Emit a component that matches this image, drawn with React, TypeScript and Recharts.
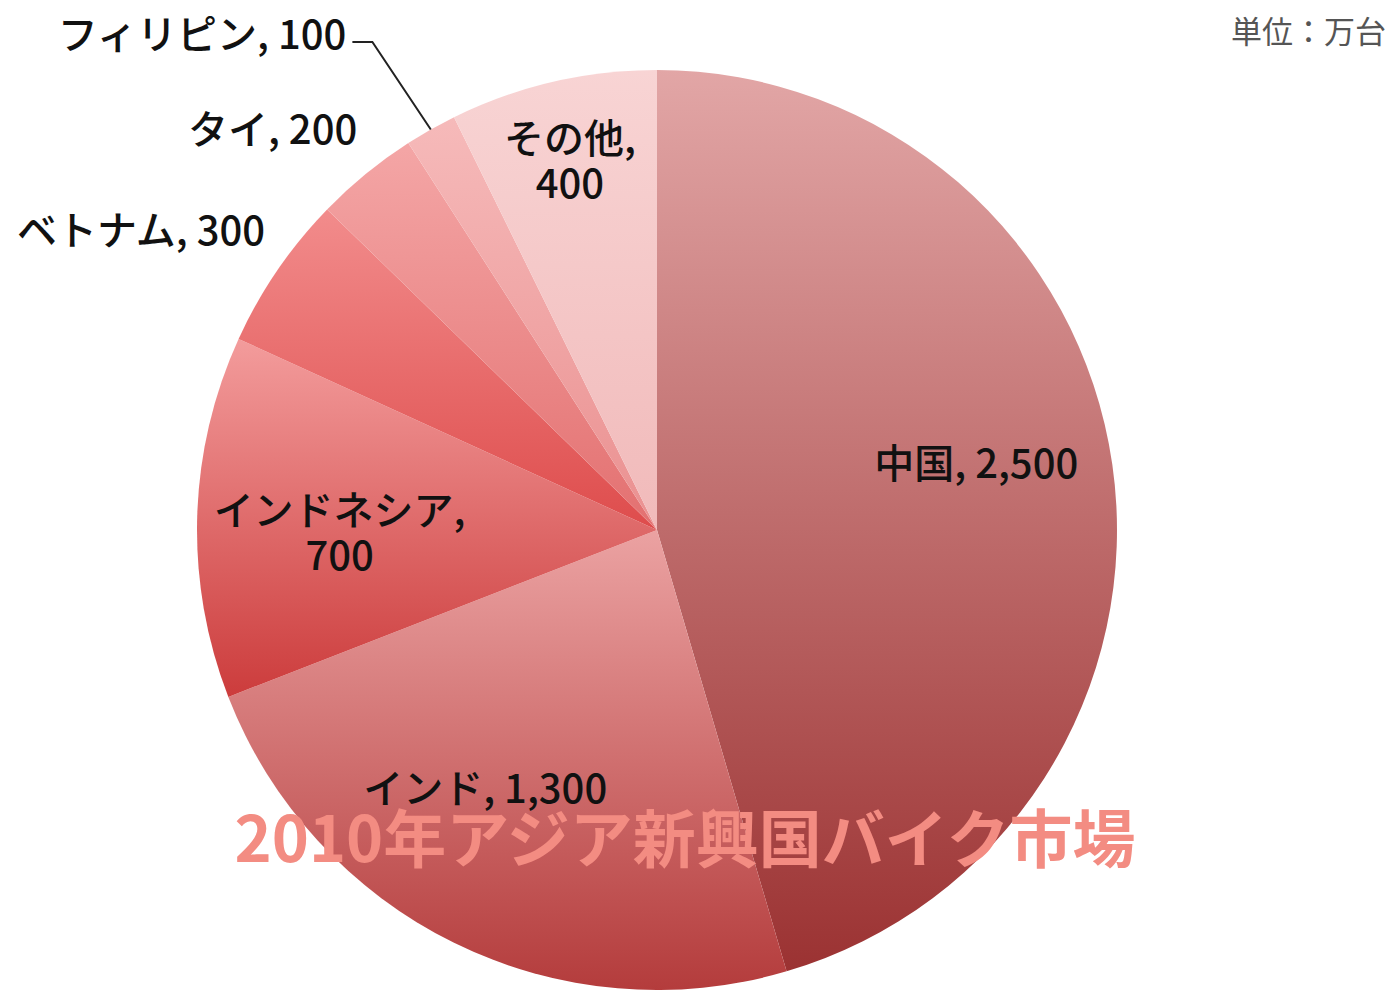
import { Cell, Pie, PieChart } from "recharts";

// 2010 Asian emerging-market motorbike sales (unit: 10k units)
const countries = ["中国", "インド", "インドネシア", "ベトナム", "タイ", "フィリピン", "その他"];
const sales = [2500, 1300, 700, 300, 200, 100, 400];

const topColors = ["#e2a6a6", "#eba2a2", "#f39c9c", "#f28c8c", "#f4a6a6", "#f6baba", "#f8d4d4"];
const bottomColors = ["#9b3232", "#b43c3c", "#cc3c3c", "#de4c4c", "#e37070", "#ea9090", "#f1baba"];

const data = countries.map((name, i) => ({ name, value: sales[i] }));

// label placement per slice: radius factor, angle shift, anchor, wrap, leader
const labelPlacement = [
  { radius: 0.71, shift: 4, anchor: "middle", wrap: false, leader: false },
  { radius: 0.67, shift: -7.7, anchor: "middle", wrap: false, leader: false },
  { radius: 0.69, shift: 1.6, anchor: "middle", wrap: true, leader: false },
  { radius: 1.076, shift: -3.3, anchor: "end", wrap: false, leader: false },
  { radius: 1.091, shift: -2.6, anchor: "end", wrap: false, leader: false },
  { radius: 1.228, shift: 0.8, anchor: "end", wrap: false, leader: true },
  { radius: 0.83, shift: 0.1, anchor: "middle", wrap: true, leader: false },
];

const RAD = Math.PI / 180;
const FONT = "'Noto Sans CJK JP', 'Noto Sans', sans-serif";

const renderLabel = (props: any) => {
  const { cx, cy, midAngle, outerRadius, index, name, value } = props;
  const cfg = labelPlacement[index];
  const ang = (midAngle + cfg.shift) * RAD;
  const r = outerRadius * cfg.radius;
  const x = cx + r * Math.cos(ang);
  const y = cy - r * Math.sin(ang);
  const valueText = Number(value).toLocaleString("en-US");
  const textProps = {
    fill: "#111",
    fontSize: 40,
    fontFamily: FONT,
    fontWeight: 500,
  };

  if (cfg.leader) {
    const ex = cx + outerRadius * Math.cos(midAngle * RAD);
    const ey = cy - outerRadius * Math.sin(midAngle * RAD);
    return (
      <g>
        <path d={`M${ex},${ey}L${x},${y}L${x - 20},${y}`} stroke="#222" strokeWidth={2} fill="none" />
        <text x={x - 26} y={y - 10} textAnchor="end" dominantBaseline="central" {...textProps}>
          {`${name}, ${valueText}`}
        </text>
      </g>
    );
  }

  if (cfg.wrap) {
    return (
      <g>
        <text x={x} y={y - 22} textAnchor={cfg.anchor} dominantBaseline="central" {...textProps}>
          {`${name},`}
        </text>
        <text x={x} y={y + 23} textAnchor={cfg.anchor} dominantBaseline="central" {...textProps}>
          {valueText}
        </text>
      </g>
    );
  }

  return (
    <text x={x} y={y} textAnchor={cfg.anchor} dominantBaseline="central" {...textProps}>
      {`${name}, ${valueText}`}
    </text>
  );
};

export default function App() {
  return (
    <div style={{ position: "absolute", left: 0, top: 0, width: 1391, height: 990, background: "#fff" }}>
      <svg width={0} height={0} style={{ position: "absolute" }}>
        <defs>
          {countries.map((c, i) => (
            <linearGradient key={c} id={`slice-${i}`} x1="0" y1="0" x2="0" y2="1">
              <stop offset="0%" stopColor={topColors[i]} />
              <stop offset="100%" stopColor={bottomColors[i]} />
            </linearGradient>
          ))}
        </defs>
      </svg>
      <PieChart width={1391} height={990} margin={{ top: 0, right: 0, bottom: 0, left: 0 }}>
        <Pie
          data={data}
          dataKey="value"
          nameKey="name"
          cx={657}
          cy={530}
          outerRadius={460}
          startAngle={90}
          endAngle={-270}
          stroke="none"
          label={renderLabel}
          labelLine={false}
          isAnimationActive={false}
        >
          {data.map((d, i) => (
            <Cell key={d.name} fill={`url(#slice-${i})`} />
          ))}
        </Pie>
      </PieChart>
      <svg
        width={1391}
        height={990}
        style={{ position: "absolute", left: 0, top: 0, pointerEvents: "none" }}
      >
        <text x={1386} y={43} textAnchor="end" fill="#555" fontSize={31} fontFamily={FONT}>
          単位：万台
        </text>
        <text
          x={685}
          y={862}
          textAnchor="middle"
          fill="#f38c82"
          fontSize={63}
          fontWeight={700}
          fontFamily={FONT}
        >
          2010年アジア新興国バイク市場
        </text>
      </svg>
    </div>
  );
}
